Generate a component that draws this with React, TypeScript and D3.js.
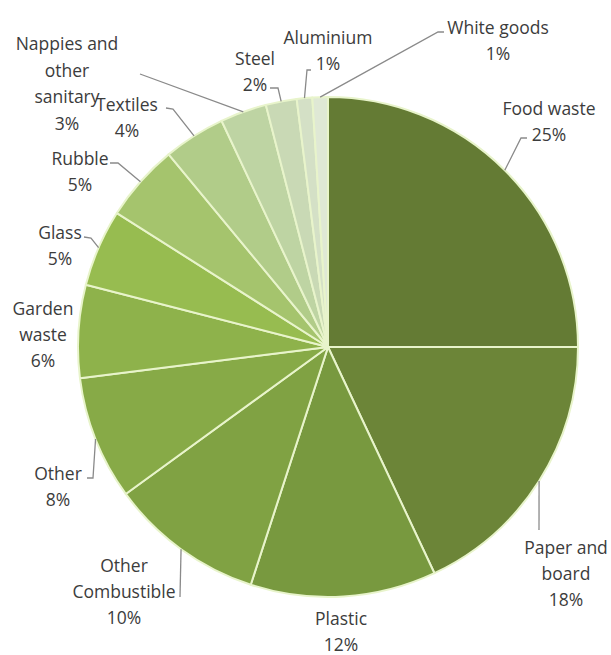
import React from "react";
import * as d3 from "d3";

const categories = [
  "Food waste",
  "Paper and board",
  "Plastic",
  "Other Combustible",
  "Other",
  "Garden waste",
  "Glass",
  "Rubble",
  "Textiles",
  "Nappies and other sanitary",
  "Steel",
  "Aluminium",
  "White goods",
];
const values = [25, 18, 12, 10, 8, 6, 5, 5, 4, 3, 2, 1, 1];
const labelLines = [
  ["Food waste"],
  ["Paper and", "board"],
  ["Plastic"],
  ["Other", "Combustible"],
  ["Other"],
  ["Garden", "waste"],
  ["Glass"],
  ["Rubble"],
  ["Textiles"],
  ["Nappies and", "other", "sanitary"],
  ["Steel"],
  ["Aluminium"],
  ["White goods"],
];
const colors = [
  "#647b34",
  "#6c8538",
  "#78993f",
  "#80a243",
  "#87aa47",
  "#8eb24b",
  "#97bc50",
  "#a5c46d",
  "#b1cc89",
  "#bed4a3",
  "#c9d9b5",
  "#d4e0c6",
  "#dfe8d5",
];

// label layout: center x, first line center y, elbow points before the pie edge
const labelLayout: { x: number; y: number; lh?: number; leader: [number, number][] | null }[] = [
  { x: 549, y: 108, leader: [[527, 138], [521, 138]] },
  { x: 566, y: 547, leader: [[539, 530]] },
  { x: 341, y: 618, leader: null },
  { x: 124, y: 565, leader: [[180, 597]] },
  { x: 58, y: 473, leader: [[87, 478], [93, 478]] },
  { x: 43, y: 308, leader: null },
  { x: 60, y: 232, leader: [[84, 237], [91, 238]] },
  { x: 80, y: 158, leader: [[110, 163], [118, 163]] },
  { x: 127, y: 104, leader: [[166, 108], [173, 109]] },
  { x: 67, y: 43, lh: 26.7, leader: [[140, 74]] },
  { x: 255, y: 58, leader: [[270, 88], [278, 88]] },
  { x: 328, y: 37, leader: [[311, 70], [307, 70]] },
  { x: 498, y: 27, leader: [[444, 32], [438, 32]] },
];

const W = 611;
const H = 655;
const CX = 328;
const CY = 347;
const R = 250;

export default function App() {
  const pie = d3.pie<number>().sort(null).value((d) => d)(values);
  const arc = d3.arc<d3.PieArcDatum<number>>().innerRadius(0).outerRadius(R);
  const edge = d3.arc<d3.PieArcDatum<number>>().innerRadius(R).outerRadius(R);
  const line = d3.line();

  return (
    <div style={{ position: "absolute", left: 0, top: 0 }}>
      <svg width={W} height={H} style={{ display: "block", background: "#fff" }}>
        <g transform={`translate(${CX},${CY})`}>
          {pie.map((p, i) => (
            <path key={categories[i]} d={arc(p) || ""} fill={colors[i]} stroke="#e8f4cb" strokeWidth={2} strokeLinejoin="round" />
          ))}
        </g>
        {pie.map((p, i) => {
          const lay = labelLayout[i];
          if (!lay.leader) return null;
          const [ex, ey] = edge.centroid(p);
          const pts: [number, number][] = [...lay.leader, [ex + CX, ey + CY]];
          return <path key={"l" + i} d={line(pts) || ""} fill="none" stroke="#8a8a8a" strokeWidth={1.3} />;
        })}
        {pie.map((p, i) => {
          const lay = labelLayout[i];
          const lh = lay.lh ?? 26;
          const lines = [...labelLines[i], `${values[i]}%`];
          return (
            <text
              key={"t" + i}
              fontFamily="'Open Sans', sans-serif"
              fontSize={17.5}
              fill="#3c3c3c"
              textAnchor="middle"
            >
              {lines.map((s, j) => (
                <tspan key={j} x={lay.x} y={lay.y + j * lh} dominantBaseline="central">
                  {s}
                </tspan>
              ))}
            </text>
          );
        })}
      </svg>
    </div>
  );
}
